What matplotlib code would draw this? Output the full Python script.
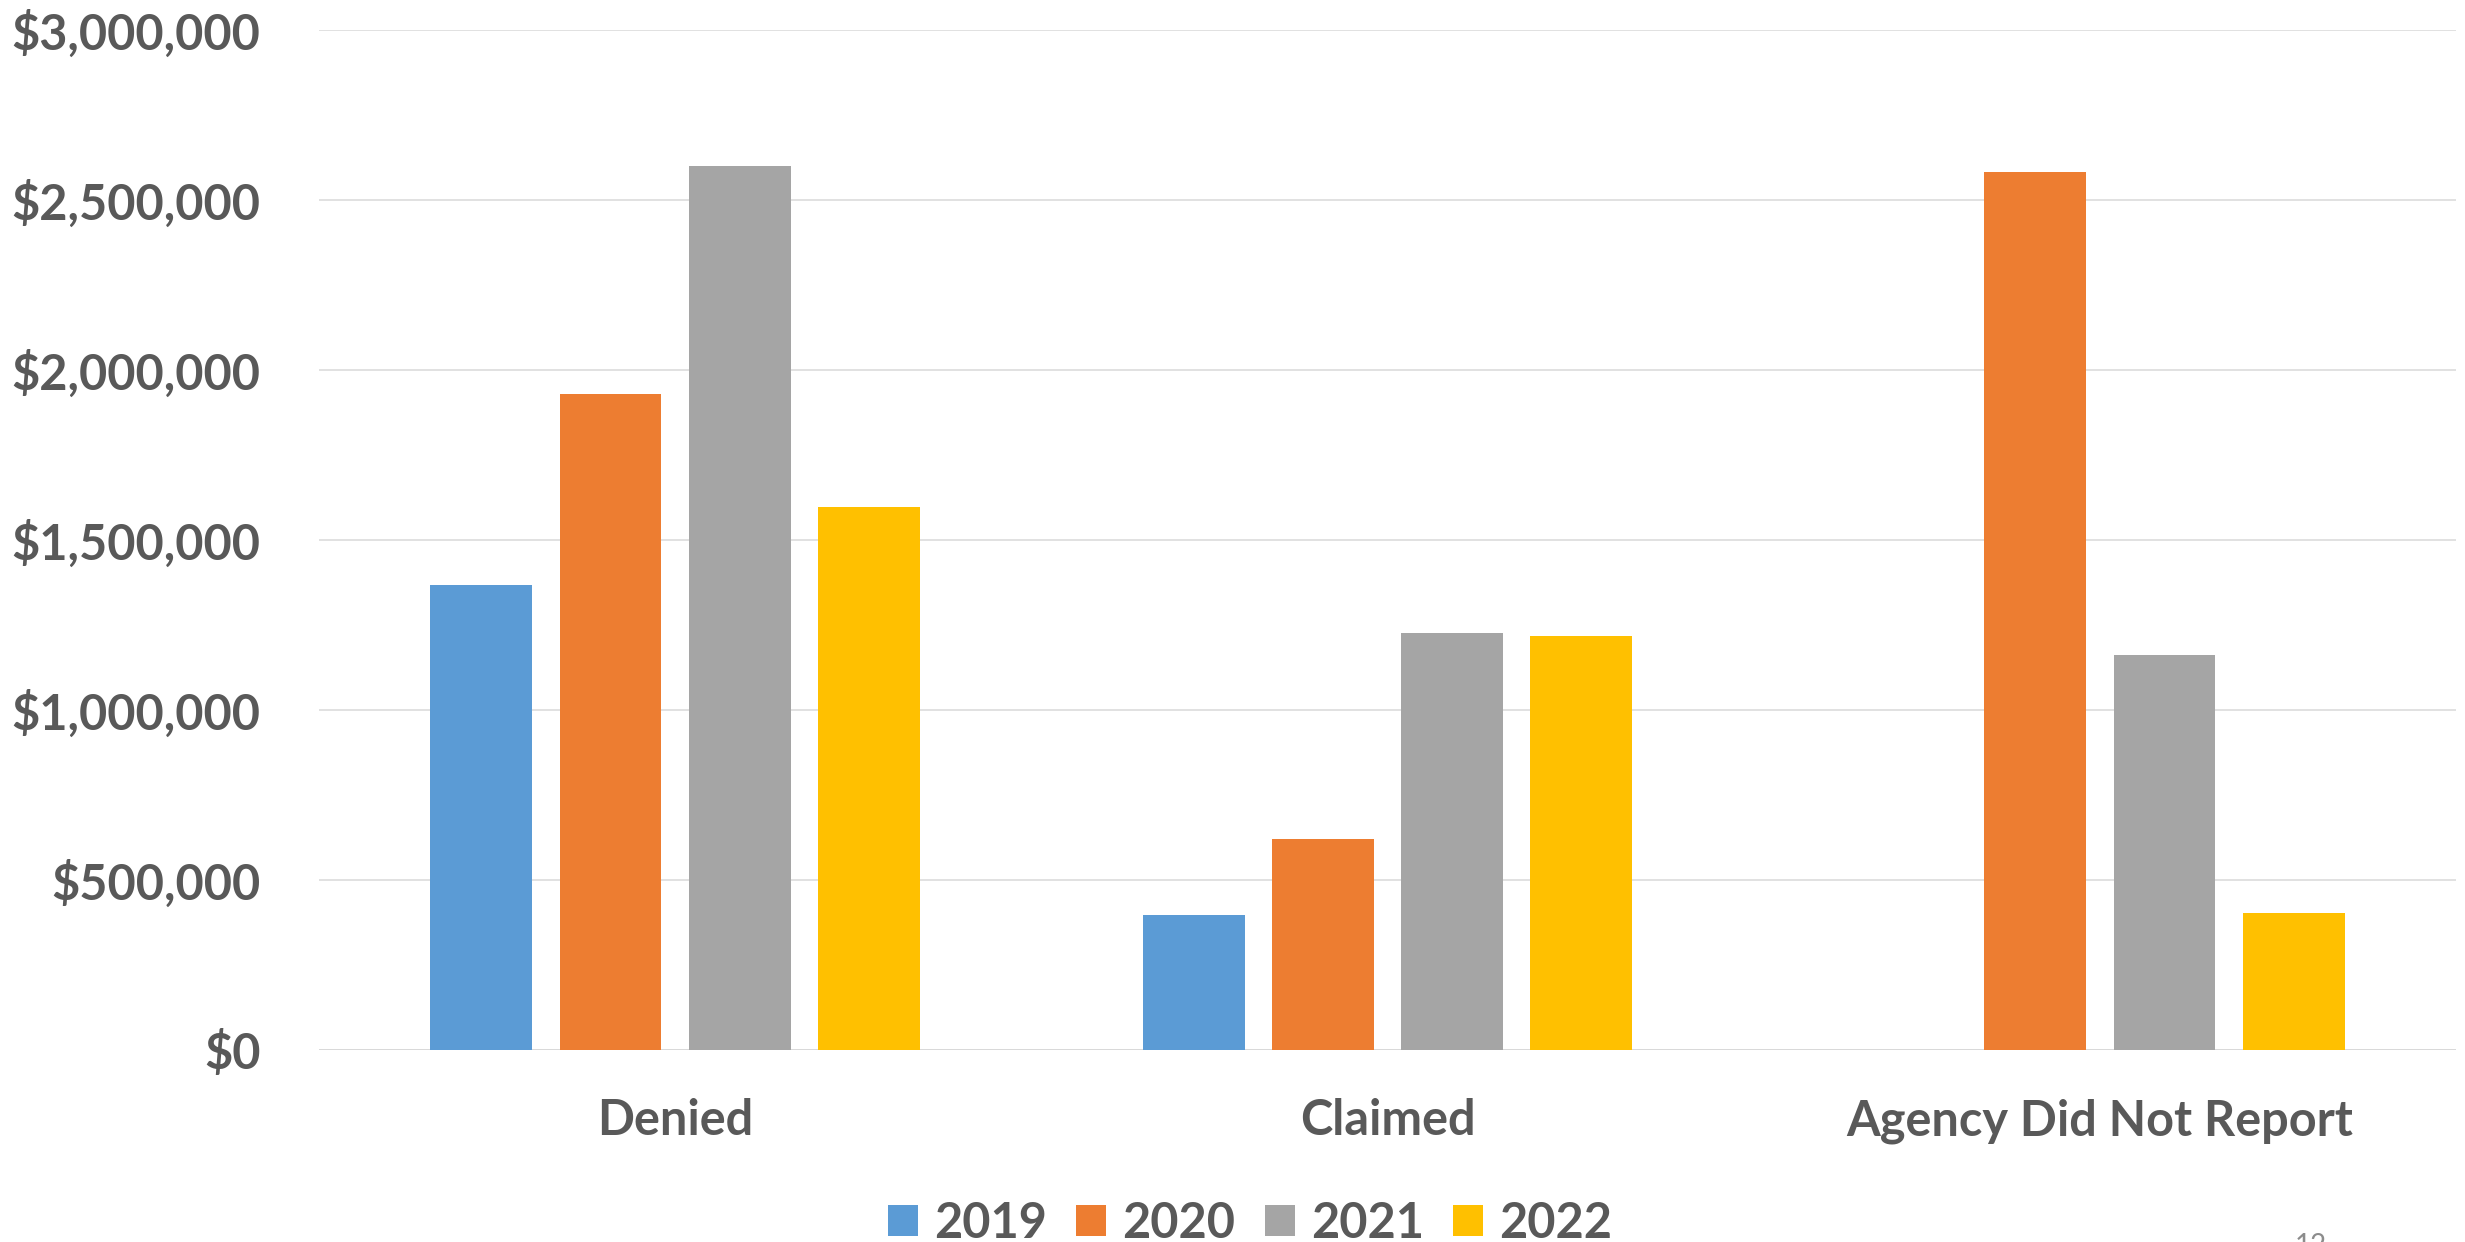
import numpy as np
import matplotlib
matplotlib.use("Agg")
import matplotlib.pyplot as plt
from matplotlib.ticker import FuncFormatter

# dane
categories = ["Denied", "Claimed", "Agency Did Not Report"]
years = ["2019", "2020", "2021", "2022"]
v2019 = [1366000, 396000, 0]
v2020 = [1930000, 618000, 2582000]
v2021 = [2601000, 1225000, 1162000]
v2022 = [1596000, 1217000, 401000]
colors = ["#5B9BD5", "#ED7D31", "#A5A5A5", "#FFC000"]

txt = "#595959"
plt.rcParams['font.family'] = ['Lato', 'DejaVu Sans']

W, H = 2465, 1242
fig = plt.figure(figsize=(W / 100, H / 100), dpi=100)
ax = fig.add_axes([319 / W, 192.5 / H, 2137 / W, 1019.5 / H])

x = np.arange(len(categories))
width = 0.143
step = 0.1814
series = [v2019, v2020, v2021, v2022]
for i, (vals, c, lab) in enumerate(zip(series, colors, years)):
    ax.bar(x + (i - 1.5) * step, vals, width, color=c, label=lab, zorder=3)

ax.set_xlim(-0.5, 2.5)
ax.set_ylim(0, 3000000)
ax.set_yticks(np.arange(0, 3000001, 500000))
ax.yaxis.set_major_formatter(FuncFormatter(lambda v, p: f"${v:,.0f}"))
ax.grid(axis='y', color='#d9d9d9', linewidth=1.1, zorder=0)
for s in ax.spines.values():
    s.set_visible(False)
ax.axhline(0, color='#d9d9d9', linewidth=1.3, zorder=1)

ax.set_xticks(x)
ax.set_xticklabels(categories)
ax.tick_params(axis='y', length=0, pad=42, labelsize=35, labelcolor=txt)
ax.tick_params(axis='x', length=0, pad=35, labelsize=35, labelcolor=txt)
for lbl in ax.get_xticklabels() + ax.get_yticklabels():
    lbl.set_fontweight('bold')

leg = fig.legend(loc='lower center', bbox_to_anchor=(1250 / W, -28 / H), ncol=4,
                 frameon=False, fontsize=35, handlelength=0.62, handleheight=0.62,
                 handletextpad=0.33, columnspacing=0.6, borderpad=0)
for t in leg.get_texts():
    t.set_color(txt)
    t.set_fontweight('bold')

# numer strony (ucięty)
fig.text(2295 / W, 1 - 1233 / H, "12", color='#8c8c8c', fontsize=20, va='top', ha='left')

fig.savefig("out.png", dpi=100)
